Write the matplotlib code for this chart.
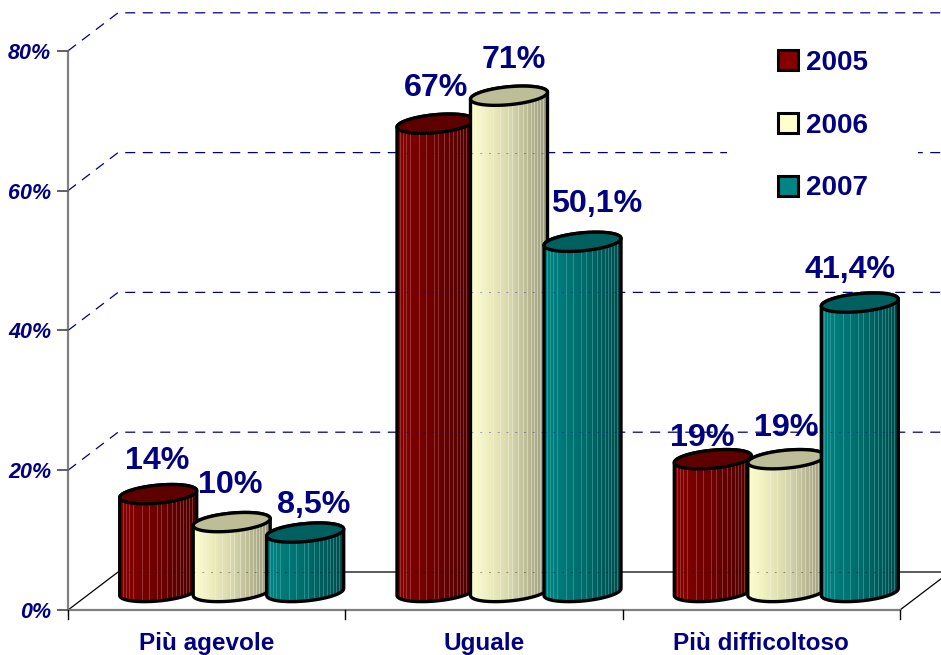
"""
Grafico a cilindri 3D: confronto 2005-2007 su tre categorie.
"""

import numpy as np
import matplotlib
matplotlib.use('Agg')
import matplotlib.pyplot as plt
from matplotlib.patches import Patch, Polygon, Rectangle
from matplotlib.colors import LinearSegmentedColormap, to_rgba

plt.rcParams['font.family'] = ['Liberation Sans', 'DejaVu Sans']

# dati
categories = ['Più agevole', 'Uguale', 'Più difficoltoso']
years = ['2005', '2006', '2007']
values_2005 = [14, 67, 19]
values_2006 = [10, 71, 19]
values_2007 = [8.5, 50.1, 41.4]
labels_2005 = ['14%', '67%', '19%']
labels_2006 = ['10%', '71%', '19%']
labels_2007 = ['8,5%', '50,1%', '41,4%']
y_ticks = [0, 20, 40, 60, 80]

NAVY = '#000080'
W, H = 941, 655
# scala: una categoria = 277.3 px, 1% = 6.99 px
PX_X = 1 / 277.3
PX_Y = 1 / 6.99
X_LIM = (-206.7 * PX_X, (W - 206.7) * PX_X)
Y_LIM = (-(H - 610) * PX_Y, 610 * PX_Y)

# profondita' del pavimento e posizione dei cilindri
DEPTH_X, DEPTH_Y = 50 * PX_X, 38 * PX_Y
BAR_STEP = 73.5 * PX_X
BAR_SHIFT = 25 * PX_X
BASE_Y = 18 * PX_Y
RX, RY = 38.5, 9.0
TILT = 0.09

# spostamento delle etichette rispetto al centro superiore (px)
NUDGE = {
    '2005': [(-1, 33.5), (1, 35.5), (-11, 21.5)],
    '2006': [(-1, 37.5), (5, 35.5), (0, 31.5)],
    '2007': [(8, 27.5), (14, 37.5), (-10, 32.5)],
}

colors = {
    '2005': ('#870000', '#6c0000', '#4a0000', '#b87070', '#5e0000'),
    '2006': ('#ffffcc', '#d8d8ae', '#9a9a7c', '#f4f4e4', '#bdbd98'),
    '2007': ('#008484', '#006c6c', '#004a4a', '#60b8b8', '#006060'),
}

# colonne chiare del cilindro, irregolari come nell'originale
STRIPES = [3, 6, 9, 13, 22, 29, 37, 41, 47, 52, 56, 60, 63, 66, 69, 72]


def ellipse(cx, cy, start=0.0, stop=2 * np.pi):
    t = np.linspace(start, stop, 80)
    x = cx + RX * PX_X * np.cos(t)
    y = cy + (RY * np.sin(t) + TILT * RX * np.cos(t)) * PX_Y
    return x, y


def cylinder_shading(light, mid, dark, stripe):
    cmap = LinearSegmentedColormap.from_list('c', [light, mid, dark])
    grad = cmap(np.linspace(0, 1, 77))
    for i in STRIPES:
        grad[i] = 0.55 * grad[i] + 0.45 * np.array(to_rgba(stripe))
    return grad[np.newaxis, :, :]


def draw_cylinder(ax, xc, value, year, zorder):
    light, mid, dark, stripe, top = colors[year]
    # corpo: meta' inferiore della base + meta' superiore opposta in cima
    xb, yb = ellipse(xc, BASE_Y, np.pi, 2 * np.pi)
    xt, yt = ellipse(xc, value + BASE_Y, 0, np.pi)
    body = np.column_stack([np.r_[xb, xt], np.r_[yb, yt]])
    poly = Polygon(body, closed=True, fc='none', ec='black', lw=2.4,
                   joinstyle='round', zorder=zorder + 0.2)
    ax.add_patch(poly)
    im = ax.imshow(cylinder_shading(light, mid, dark, stripe), aspect='auto',
                   interpolation='nearest', zorder=zorder,
                   extent=(xc - RX * PX_X, xc + RX * PX_X, BASE_Y - 15 * PX_Y,
                           value + BASE_Y + 15 * PX_Y))
    im.set_clip_path(poly)
    # le linee delle pareti si intravedono attraverso il cilindro
    for v in y_ticks[:-1]:
        level = v + DEPTH_Y
        if level < value + BASE_Y - 10 * PX_Y:
            ax.plot([xc - RX * PX_X, xc + RX * PX_X], [level, level],
                    color='black' if v == 0 else NAVY, lw=0.7, alpha=0.35,
                    dashes=(2, 7), zorder=zorder + 0.1)
    xe, ye = ellipse(xc, value + BASE_Y)
    ax.add_patch(Polygon(np.column_stack([xe, ye]), closed=True, fc=top,
                         ec='black', lw=2.4, zorder=zorder + 0.3))


fig = plt.figure(figsize=(W / 100, H / 100), dpi=100)
ax = fig.add_axes([0, 0, 1, 1])
ax.set_xlim(*X_LIM)
ax.set_ylim(*Y_LIM)
ax.axis('off')

x_left, x_right = -0.5, 2.5

# griglia tratteggiata (pareti)
for v in y_ticks[1:]:
    ax.plot([x_left, x_left + DEPTH_X, X_LIM[1]],
            [v, v + DEPTH_Y, v + DEPTH_Y], color=NAVY, lw=0.9,
            dashes=(8, 6), zorder=1)

# pavimento
ax.plot([x_left, x_left + DEPTH_X, X_LIM[1]], [0, DEPTH_Y, DEPTH_Y],
        color='black', lw=0.9, zorder=1)
ax.plot([x_right, x_right + DEPTH_X], [0, DEPTH_Y], color='black', lw=0.9,
        zorder=1)

# assi
ax.plot([x_left, x_left], [0, y_ticks[-1]], color='#808080', lw=1.6, zorder=2)
ax.plot([x_left, x_right], [0, 0], color='#808080', lw=1.6, zorder=2)
for v in y_ticks:
    ax.plot([x_left - 10 * PX_X, x_left], [v, v], color='#606060', lw=1.4,
            zorder=2)
    ax.text(x_left - 17 * PX_X, v - 2.5 * PX_Y, f'{v}%', ha='right', va='center',
            fontsize=15.5, fontweight='bold', fontstyle='italic', color=NAVY)
for t in np.arange(x_left, x_right + 0.5):
    ax.plot([t, t], [0, -9 * PX_Y], color='black', lw=1.0, zorder=2)

for i, cat in enumerate(categories):
    ax.text(i, -33.5 * PX_Y, cat, ha='center', va='center', fontsize=17.5,
            fontweight='bold', color=NAVY)

# cilindri
series = [values_2005, values_2006, values_2007]
labels = [labels_2005, labels_2006, labels_2007]
for s, (year, vals, labs) in enumerate(zip(years, series, labels)):
    for i, (v, lab) in enumerate(zip(vals, labs)):
        xc = i + BAR_SHIFT + (s - 1) * BAR_STEP
        draw_cylinder(ax, xc, v, year, 3 + s)
        dx, dy = NUDGE[year][i]
        ax.text(xc + dx * PX_X, v + BASE_Y + dy * PX_Y, lab, ha='center',
                va='center', fontsize=23.2, fontweight='bold', color=NAVY,
                zorder=8)

# sfondo bianco della legenda: interrompe solo la linea del 60%
y60 = 60 + DEPTH_Y
ax.add_patch(Rectangle((727 * PX_X + X_LIM[0], y60 - 5 * PX_Y), 191 * PX_X,
                       10 * PX_Y, fc='white', ec='none', zorder=2))

handles = [Patch(fc=colors[y][0], ec='black', lw=2.2, label=y) for y in years]
leg = ax.legend(handles=handles, loc='upper left', frameon=False,
                bbox_to_anchor=(778 / W, 1 - 50 / H), ncol=1,
                labelcolor=NAVY, prop={'weight': 'bold', 'size': 20},
                handlelength=0.72, handleheight=0.72, handletextpad=0.3,
                labelspacing=1.32, borderaxespad=0, borderpad=0)
leg.set_zorder(9)

fig.savefig('out.png', dpi=100)
